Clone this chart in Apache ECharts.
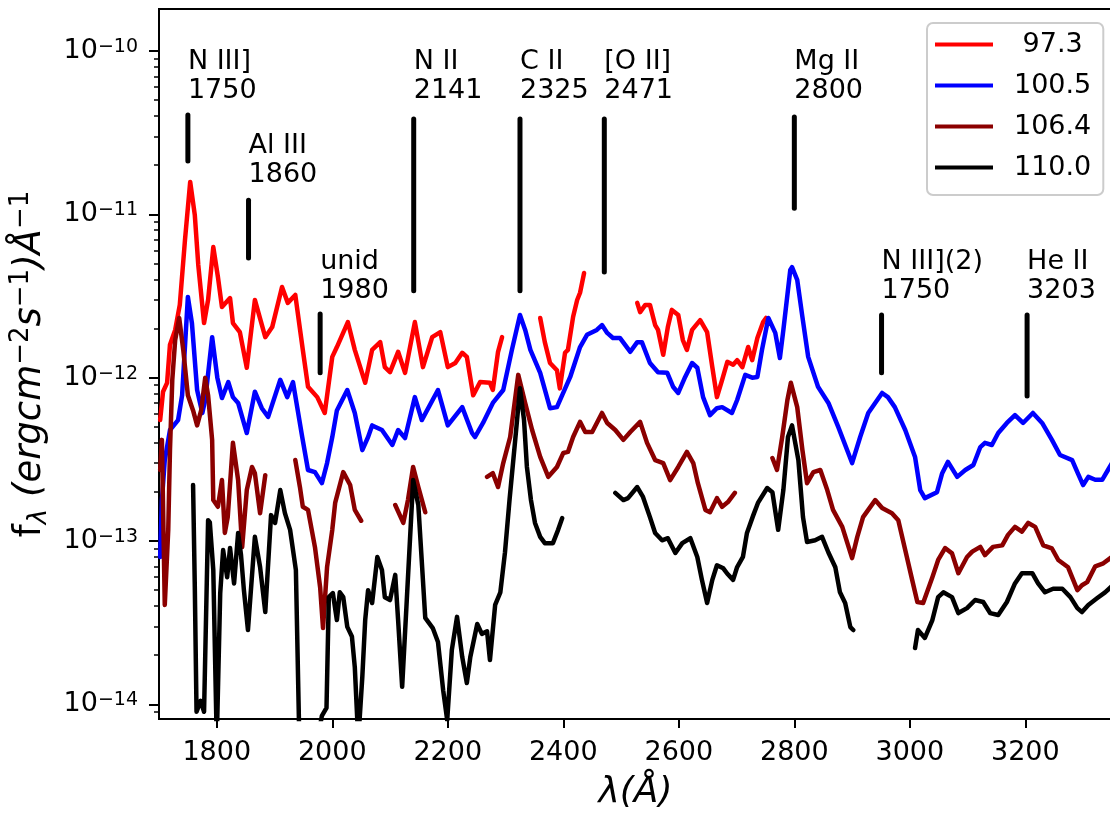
<!DOCTYPE html>
<html>
<head>
<meta charset="utf-8">
<script src="https://cdn.jsdelivr.net/npm/echarts@6/dist/echarts.min.js"></script>
<style>
  html, body { margin: 0; padding: 0; background: #fff; }
  #chart { width: 1110px; height: 825px; }
</style>
</head>
<body>
<div id="chart"></div>
<script>
// ---------------- data ----------------
const seriesNames = ['97.3', '100.5', '106.4', '110.0'];
const seriesColors = ['#ff0000', '#0000ff', '#8b0000', '#000000'];

// wavelength (Å), f_lambda ; each inner array is one continuous segment
const red973 = [
  [[1702,5.5e-13],[1707,8.2e-13],[1714,9.3e-13],[1719,1.59e-12],[1728,1.96e-12],[1736,2.79e-12],[1745,6.97e-12],[1754,1.58e-11],[1762,9.9e-12],[1768,4.9e-12],[1778,2.16e-12],[1785,2.99e-12],[1794,6.3e-12],[1802,4.14e-12],[1809,2.71e-12],[1823,3.07e-12],[1828,2.16e-12],[1840,1.9e-12],[1852,1.15e-12],[1866,2.99e-12],[1884,1.77e-12],[1896,2.04e-12],[1913,3.59e-12],[1923,2.87e-12],[1936,3.21e-12],[1949,1.48e-12],[1958,8.8e-13],[1974,7.6e-13],[1987,6.08e-13],[2000,1.34e-12],[2008,1.54e-12],[2027,2.19e-12],[2039,1.48e-12],[2057,9.3e-13],[2069,1.48e-12],[2083,1.65e-12],[2091,1.16e-12],[2100,1.08e-12],[2114,1.44e-12],[2126,1.07e-12],[2143,2.19e-12],[2157,1.16e-12],[2173,1.77e-12],[2187,1.9e-12],[2200,1.16e-12],[2213,1.23e-12],[2225,1.42e-12],[2233,1.34e-12],[2244,7.8e-13],[2256,9.4e-13],[2273,9.3e-13],[2278,8.4e-13],[2287,1.44e-12],[2294,1.77e-12]],
  [[2360,2.32e-12],[2368,1.65e-12],[2377,1.23e-12],[2389,1.11e-12],[2394,8.6e-13],[2403,1.42e-12],[2408,1.48e-12],[2417,2.36e-12],[2424,2.99e-12],[2429,3.31e-12],[2436,4.37e-12]],
  [[2528,2.87e-12],[2533,2.52e-12],[2542,2.79e-12],[2550,2.79e-12],[2559,2.1e-12],[2564,1.96e-12],[2573,1.38e-12],[2581,2.04e-12],[2588,2.6e-12],[2599,2.42e-12],[2607,1.7e-12],[2614,1.48e-12],[2623,1.96e-12],[2637,2.25e-12],[2649,1.9e-12],[2658,1.16e-12],[2666,7.6e-13],[2675,9.7e-13],[2684,1.25e-12],[2694,1.2e-12],[2701,1.28e-12],[2710,1.16e-12],[2720,1.54e-12],[2727,1.28e-12],[2736,1.75e-12],[2746,2.19e-12],[2751,2.32e-12]]
];

const blue1005 = [
  [[1702,7.98e-14],[1705,1.78e-13],[1710,3.13e-13],[1719,4.78e-13],[1733,5.5e-13],[1740,7.8e-13],[1750,3.12e-12],[1757,2.16e-12],[1766,8.4e-13],[1775,6.08e-13],[1780,7.3e-13],[1792,1.77e-12],[1801,1.0e-12],[1809,7.5e-13],[1820,9.4e-13],[1828,7.6e-13],[1837,7.0e-13],[1852,4.58e-13],[1866,8.2e-13],[1878,6.5e-13],[1889,5.75e-13],[1910,9.7e-13],[1922,7.6e-13],[1932,9.4e-13],[1948,4.33e-13],[1958,2.72e-13],[1970,2.64e-13],[1982,2.26e-13],[1991,3.0e-13],[2000,4.33e-13],[2008,6.3e-13],[2026,8.4e-13],[2039,6.08e-13],[2052,3.6e-13],[2062,4.33e-13],[2069,5.1e-13],[2086,4.78e-13],[2104,3.87e-13],[2114,4.78e-13],[2126,4.27e-13],[2143,7.6e-13],[2155,5.5e-13],[2183,8.4e-13],[2200,5.1e-13],[2225,6.6e-13],[2242,4.58e-13],[2247,4.33e-13],[2261,5.28e-13],[2278,7.0e-13],[2296,8.4e-13],[2311,1.48e-12],[2325,2.42e-12],[2334,1.96e-12],[2343,1.48e-12],[2360,1.07e-12],[2377,6.5e-13],[2389,6.6e-13],[2412,1.01e-12],[2429,1.54e-12],[2441,1.83e-12],[2458,1.96e-12],[2467,2.1e-12],[2476,1.88e-12],[2486,1.75e-12],[2498,1.75e-12],[2516,1.44e-12],[2528,1.65e-12],[2536,1.65e-12],[2550,1.23e-12],[2564,1.08e-12],[2580,1.07e-12],[2590,8.8e-13],[2599,8.06e-13],[2611,1.01e-12],[2623,1.23e-12],[2632,1.15e-12],[2642,7.6e-13],[2654,5.9e-13],[2666,6.5e-13],[2675,6.6e-13],[2692,6.08e-13],[2701,7.3e-13],[2715,1.04e-12],[2727,1.0e-12],[2736,1.01e-12],[2744,1.48e-12],[2755,2.32e-12],[2767,1.88e-12],[2775,1.32e-12],[2781,1.96e-12],[2793,4.57e-12],[2796,4.75e-12],[2805,3.97e-12],[2814,2.35e-12],[2824,1.34e-12],[2841,8.8e-13],[2859,7.0e-13],[2876,4.99e-13],[2900,3.0e-13],[2914,4.33e-13],[2928,6.08e-13],[2952,8.06e-13],[2962,7.6e-13],[2974,6.6e-13],[2992,4.78e-13],[3009,3.27e-13],[3018,2.05e-13],[3026,1.83e-13],[3047,1.99e-13],[3056,2.6e-13],[3066,3.05e-13],[3082,2.47e-13],[3096,2.72e-13],[3110,2.92e-13],[3122,3.76e-13],[3130,3.99e-13],[3142,3.87e-13],[3153,4.58e-13],[3168,5.28e-13],[3182,5.9e-13],[3196,5.28e-13],[3213,6.08e-13],[3229,5.28e-13],[3246,4.16e-13],[3260,3.36e-13],[3281,3.13e-13],[3290,2.64e-13],[3300,2.2e-13],[3309,2.47e-13],[3321,2.37e-13],[3333,2.37e-13],[3343,2.72e-13],[3350,3.0e-13]]
];

const darkred1064 = [
  [[1702,2.72e-13],[1705,4.16e-13],[1710,4.06e-14],[1716,1.17e-13],[1719,3.6e-13],[1723,9.7e-13],[1728,1.7e-12],[1735,2.32e-12],[1742,1.48e-12],[1750,7.8e-13],[1759,6.3e-13],[1766,5.1e-13],[1773,6.3e-13],[1780,9.97e-13],[1785,7.8e-13],[1792,4.16e-13],[1794,1.78e-13],[1802,1.62e-13],[1809,2.36e-13],[1814,1.12e-13],[1819,1.4e-13],[1828,3.99e-13],[1837,2.36e-13],[1844,9.18e-14],[1852,2.05e-13],[1861,2.84e-13],[1866,2.6e-13],[1875,1.48e-13],[1884,2.53e-13]],
  [[1936,3.13e-13],[1944,2.14e-13],[1949,1.62e-13],[1958,1.55e-13],[1970,9.18e-14],[1979,5.2e-14],[1984,2.93e-14],[1991,6.93e-14],[2000,1.17e-13],[2005,1.71e-13],[2019,2.64e-13],[2031,2.2e-13],[2039,1.55e-13],[2050,1.33e-13]],
  [[2109,1.66e-13],[2123,1.29e-13],[2131,1.78e-13],[2140,2.84e-13],[2149,2.14e-13],[2161,1.5e-13]],
  [[2268,2.47e-13],[2278,2.6e-13],[2287,2.14e-13],[2296,3.0e-13],[2308,4.33e-13],[2322,1.04e-12],[2334,7.0e-13],[2346,4.78e-13],[2360,3.27e-13],[2374,2.47e-13],[2389,2.84e-13],[2400,3.46e-13],[2408,3.51e-13],[2417,4.33e-13],[2429,5.36e-13],[2438,4.65e-13],[2450,4.65e-13],[2467,6.08e-13],[2476,5.28e-13],[2490,4.78e-13],[2504,4.16e-13],[2516,4.65e-13],[2533,5.36e-13],[2545,3.99e-13],[2559,3.13e-13],[2573,3.0e-13],[2585,2.36e-13],[2599,2.84e-13],[2614,3.51e-13],[2625,3.0e-13],[2633,2.26e-13],[2646,1.55e-13],[2654,1.5e-13],[2666,1.83e-13],[2675,1.62e-13],[2685,1.73e-13],[2697,1.97e-13]],
  [[2762,3.22e-13],[2770,2.72e-13],[2779,4.33e-13],[2788,7.3e-13],[2794,9.3e-13],[2805,6.6e-13],[2814,3.6e-13],[2822,2.26e-13],[2833,2.64e-13],[2845,2.72e-13],[2857,2.05e-13],[2867,1.55e-13],[2883,1.22e-13],[2900,7.86e-14],[2909,1.06e-13],[2919,1.4e-13],[2940,1.78e-13],[2952,1.59e-13],[2969,1.48e-13],[2980,1.34e-13],[2992,8.8e-14],[3004,5.78e-14],[3013,4.23e-14],[3023,4.17e-14],[3039,6.0e-14],[3049,7.65e-14],[3061,9.05e-14],[3073,8.4e-14],[3084,6.35e-14],[3099,7.98e-14],[3108,8.6e-14],[3122,9.2e-14],[3130,8.2e-14],[3144,9.2e-14],[3160,9.4e-14],[3170,1.09e-13],[3182,1.22e-13],[3194,1.14e-13],[3205,1.29e-13],[3217,1.22e-13],[3231,9.4e-14],[3246,9.0e-14],[3257,7.65e-14],[3274,6.9e-14],[3290,5.0e-14],[3298,5.36e-14],[3307,5.6e-14],[3321,7.0e-14],[3335,7.3e-14],[3350,8.0e-14]]
];

const black1100 = [
  [[1759,2.2e-13],[1762,5.2e-14],[1765,9e-15],[1772,1.05e-14],[1778,9e-15],[1785,1.34e-13],[1788,1.3e-13],[1794,6.64e-14],[1800,6e-15],[1806,4.8e-14],[1811,8.8e-14],[1818,6.0e-14],[1823,9.05e-14],[1830,5.5e-14],[1837,1.12e-13],[1842,8.2e-14],[1847,5.0e-14],[1854,2.85e-14],[1866,1.06e-13],[1875,6.93e-14],[1884,3.67e-14],[1894,1.44e-13],[1901,1.29e-13],[1910,2.05e-13],[1918,1.48e-13],[1927,1.17e-13],[1937,6.64e-14],[1944,4e-15],[1965,4e-15],[1982,8.5e-15],[1990,9.5e-15],[1994,4.53e-14],[2001,4.8e-14],[2008,3.28e-14],[2013,4.85e-14],[2019,4.53e-14],[2026,2.98e-14],[2034,2.6e-14],[2039,1.69e-14],[2045,6e-15],[2052,1.47e-14],[2057,3.28e-14],[2062,5.0e-14],[2069,4.17e-14],[2078,7.98e-14],[2086,6.64e-14],[2091,4.53e-14],[2100,4.35e-14],[2109,6.2e-14],[2114,3.28e-14],[2121,1.28e-14],[2129,4.35e-14],[2140,2.36e-13],[2149,1.66e-13],[2161,3.38e-14],[2174,2.93e-14],[2183,2.41e-14],[2192,1.22e-14],[2199,8.0e-15],[2207,2.15e-14],[2216,3.43e-14],[2225,1.95e-14],[2233,1.35e-14],[2239,1.95e-14],[2251,3.1e-14],[2259,2.7e-14],[2268,2.8e-14],[2273,1.87e-14],[2282,4.06e-14],[2291,4.85e-14],[2299,8.5e-14],[2307,1.8e-13],[2316,3.9e-13],[2325,8.6e-13],[2332,5.5e-13],[2337,2.84e-13],[2344,1.78e-13],[2351,1.29e-13],[2360,1.06e-13],[2368,9.7e-14],[2382,9.7e-14],[2391,1.17e-13],[2398,1.38e-13]],
  [[2490,1.97e-13],[2504,1.78e-13],[2512,1.83e-13],[2528,2.14e-13],[2538,1.86e-13],[2550,1.4e-13],[2559,1.12e-13],[2571,1.01e-13],[2581,1.04e-13],[2594,8.44e-14],[2606,9.7e-14],[2620,1.04e-13],[2632,7.98e-14],[2640,5.78e-14],[2649,4.17e-14],[2658,5.78e-14],[2666,7.1e-14],[2677,6.8e-14],[2684,6.3e-14],[2694,5.78e-14],[2701,6.93e-14],[2711,7.98e-14],[2718,1.12e-13],[2729,1.44e-13],[2737,1.71e-13],[2753,2.11e-13],[2762,1.99e-13],[2772,1.17e-13],[2781,2.05e-13],[2789,4.33e-13],[2796,5.1e-13],[2807,3.13e-13],[2815,1.4e-13],[2822,9.86e-14],[2836,1.01e-13],[2848,1.06e-13],[2859,8.5e-14],[2871,6.9e-14],[2879,4.85e-14],[2888,4.17e-14],[2897,2.97e-14],[2902,2.85e-14]],
  [[3009,2.21e-14],[3014,2.85e-14],[3026,2.55e-14],[3039,3.28e-14],[3049,4.53e-14],[3058,4.85e-14],[3073,4.53e-14],[3084,3.62e-14],[3099,3.88e-14],[3113,4.35e-14],[3127,4.23e-14],[3139,3.62e-14],[3153,3.52e-14],[3168,4.23e-14],[3182,5.5e-14],[3194,6.35e-14],[3212,6.35e-14],[3222,5.5e-14],[3234,4.85e-14],[3248,5.1e-14],[3264,5.1e-14],[3278,4.53e-14],[3290,3.88e-14],[3298,3.67e-14],[3309,4.06e-14],[3324,4.46e-14],[3338,4.85e-14],[3350,5.3e-14]]
];

// line identifications
const lineLabels = ['N III]\n1750', 'Al III\n1860', 'unid\n1980', 'N II\n2141', 'C II\n2325', '[O II]\n2471', 'Mg II\n2800', 'N III](2)\n1750', 'He II\n3203'];
const lineWave   = [1750, 1855, 1979, 2141, 2325, 2471, 2800, 2951, 3203];
const markTop    = [4.06e-11, 1.22e-11, 2.45e-12, 3.84e-11, 3.84e-11, 3.84e-11, 3.95e-11, 2.42e-12, 2.42e-12];
const markBottom = [2.12e-11, 5.4e-12, 1.07e-12, 3.40e-12, 3.40e-12, 4.44e-12, 1.09e-11, 1.07e-12, 7.73e-13];
const labelBase  = [4.66e-11, 1.41e-11, 2.78e-12, 4.66e-11, 4.66e-11, 4.66e-11, 4.66e-11, 2.78e-12, 2.78e-12];

// axes
const X_MIN = 1700, X_MAX = 3350;
const Y_MIN = 8.13e-15, Y_MAX = 1.808e-10;
const xTicks = [1800, 2000, 2200, 2400, 2600, 2800, 3000, 3200];
const yMajorTicks = [1e-14, 1e-13, 1e-12, 1e-11, 1e-10];
const yMajorExp = ['−14', '−13', '−12', '−11', '−10'];
const yMinorTicks = [9e-15,
  2e-14,3e-14,4e-14,5e-14,6e-14,7e-14,8e-14,9e-14,
  2e-13,3e-13,4e-13,5e-13,6e-13,7e-13,8e-13,9e-13,
  2e-12,3e-12,4e-12,5e-12,6e-12,7e-12,8e-12,9e-12,
  2e-11,3e-11,4e-11,5e-11,6e-11,7e-11,8e-11,9e-11];

// ---------------- chart ----------------
const FONT = 'DejaVu Sans';
function joinSegments(segs) {
  const out = [];
  segs.forEach((s, i) => {
    if (i > 0) out.push([s[0][0] - 1, null]);
    s.forEach(p => out.push(p));
  });
  return out;
}
const allSeries = [red973, blue1005, darkred1064, black1100];

const lineSeries = allSeries.map((segs, i) => ({
  name: seriesNames[i],
  type: 'line',
  data: joinSegments(segs),
  showSymbol: false,
  symbol: 'none',
  connectNulls: false,
  clip: true,
  lineStyle: { color: seriesColors[i], width: 4.5, join: 'round', cap: 'round' },
  itemStyle: { color: seriesColors[i] },
  emphasis: { disabled: true },
  silent: true,
  z: 2 + i
}));

const annoData = lineWave.map((w, i) => [w, markTop[i], markBottom[i], labelBase[i]]);
const annoSeries = {
  type: 'custom',
  name: 'ids',
  data: annoData,
  silent: true,
  z: 10,
  renderItem: function (params, api) {
    const w = api.value(0);
    const p1 = api.coord([w, api.value(1)]);
    const p2 = api.coord([w, api.value(2)]);
    const pt = api.coord([w, api.value(3)]);
    return {
      type: 'group',
      children: [
        { type: 'line', shape: { x1: p1[0], y1: p1[1], x2: p2[0], y2: p2[1] },
          style: { stroke: '#000', lineWidth: 5, lineCap: 'round' } },
        { type: 'text', x: pt[0], y: pt[1],
          style: { text: lineLabels[params.dataIndex], fill: '#000', fontSize: 27, fontFamily: FONT,
                   align: 'left', verticalAlign: 'bottom', lineHeight: 29 } }
      ]
    };
  }
};

const chart = echarts.init(document.getElementById('chart'), null, { renderer: 'canvas' });
chart.setOption({
  animation: false,
  backgroundColor: '#fff',
  textStyle: { fontFamily: FONT },
  grid: { left: 159, top: 9, right: -2, bottom: 106, show: true, borderColor: '#000', borderWidth: 2,
          backgroundColor: 'transparent', containLabel: false, outerBoundsMode: 'none' },
  legend: {
    data: seriesNames,
    orient: 'vertical',
    left: 927, top: 23,
    padding: [8, 12, 14, 8],
    itemGap: 14, itemWidth: 58, itemHeight: 4,
    icon: 'rect',
    selectedMode: false,
    backgroundColor: 'rgba(255,255,255,0.8)',
    borderColor: '#cccccc', borderWidth: 2, borderRadius: 6,
    formatter: n => '{g| }{t|' + n.padStart(5, ' ') + '}',
    textStyle: { fontFamily: FONT, fontSize: 27, color: '#000', lineHeight: 25,
      rich: { g: { width: 16, fontSize: 27, lineHeight: 25 },
              t: { fontFamily: FONT, fontSize: 27, color: '#000', lineHeight: 25 } } }
  },
  xAxis: {
    type: 'value', min: X_MIN, max: X_MAX,
    axisLine: { show: false },
    splitLine: { show: false },
    axisTick: { show: true, customValues: xTicks, length: 9, lineStyle: { color: '#000', width: 2 } },
    axisLabel: { customValues: xTicks, fontSize: 27, fontFamily: FONT, color: '#000', margin: 20, lineHeight: 27,
                 formatter: v => String(v) },
    name: 'λ(Å)', nameLocation: 'middle', nameGap: 52,
    nameTextStyle: { fontSize: 36, fontStyle: 'italic', fontFamily: FONT, color: '#000', lineHeight: 44 }
  },
  yAxis: [{
    type: 'log', logBase: 10, min: Y_MIN, max: Y_MAX, position: 'left',
    axisLine: { show: false },
    splitLine: { show: false },
    minorTick: { show: false },
    axisTick: { show: true, customValues: yMajorTicks, length: 10, lineStyle: { color: '#000', width: 2 } },
    axisLabel: {
      customValues: yMajorTicks, margin: 21, color: '#000',
      formatter: function (v) {
        const i = yMajorTicks.findIndex(t => Math.abs(Math.log10(t) - Math.log10(v)) < 1e-6);
        return i < 0 ? '' : '{m|10}{s|' + yMajorExp[i] + '}';
      },
      rich: {
        m: { fontSize: 27, fontFamily: FONT, color: '#000', lineHeight: 27, verticalAlign: 'top' },
        s: { fontSize: 19, fontFamily: FONT, color: '#000', lineHeight: 19, verticalAlign: 'top' }
      }
    },
    name: '{n|f}{sub|λ}{n| }{i|(ergcm}{sup|−2}{i|s}{sup|−1}{i|)Å}{sup|−1}',
    nameLocation: 'middle', nameRotate: 90, nameGap: 100,
    nameTextStyle: {
      fontFamily: FONT, color: '#000',
      rich: {
        n: { fontSize: 37, fontFamily: FONT, color: '#000', lineHeight: 44, verticalAlign: 'middle' },
        i: { fontSize: 37, fontFamily: FONT, fontStyle: 'italic', color: '#000', lineHeight: 44, verticalAlign: 'middle' },
        sub: { fontSize: 26, fontFamily: FONT, fontStyle: 'italic', color: '#000', lineHeight: 25, verticalAlign: 'bottom' },
        sup: { fontSize: 26, fontFamily: FONT, color: '#000', lineHeight: 25, verticalAlign: 'top' }
      }
    }
  }, {
    type: 'log', logBase: 10, min: Y_MIN, max: Y_MAX, position: 'left',
    axisLine: { show: false },
    splitLine: { show: false },
    axisLabel: { show: false, customValues: yMinorTicks },
    axisTick: { show: true, customValues: yMinorTicks, length: 5, lineStyle: { color: '#000', width: 1.5 } }
  }],
  series: lineSeries.concat([annoSeries])
});
</script>
</body>
</html>
